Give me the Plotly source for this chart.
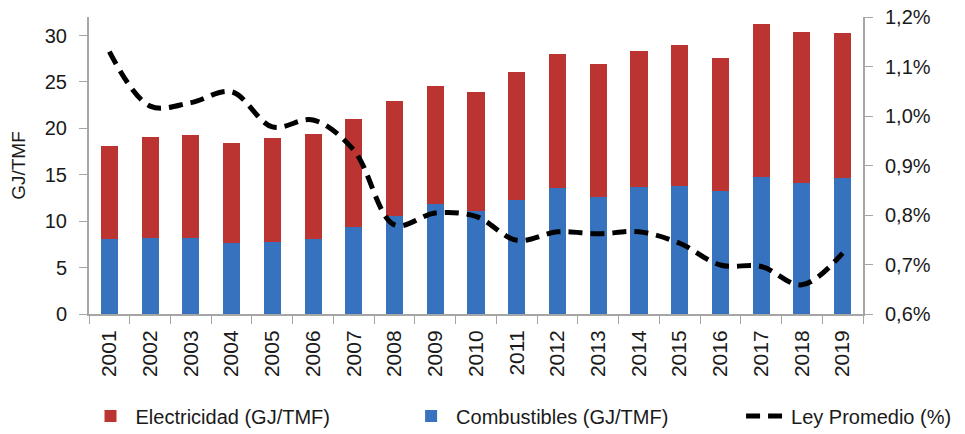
import plotly.graph_objects as go

anios = [str(a) for a in range(2001, 2020)]
total = [18.1, 19.1, 19.3, 18.4, 19.0, 19.4, 21.0, 22.9, 24.6, 23.9,
         26.1, 28.0, 26.9, 28.3, 29.0, 27.6, 31.2, 30.4, 30.3]
combustibles = [8.1, 8.2, 8.2, 7.7, 7.8, 8.1, 9.4, 10.6, 11.8, 11.1,
                12.3, 13.6, 12.6, 13.7, 13.8, 13.3, 14.8, 14.1, 14.7]
electricidad = [round(t - c, 2) for t, c in zip(total, combustibles)]
ley = [1.13, 1.02, 1.027, 1.049, 0.978, 0.992, 0.931, 0.78, 0.804, 0.797,
       0.749, 0.766, 0.762, 0.766, 0.743, 0.699, 0.696, 0.659, 0.723]

FUENTE = "Liberation Sans, Arial, sans-serif"
GRIS = "#a6a6a6"


def _leyenda(x):
    # una leyenda por serie para repartirlas como en el original
    return dict(orientation="h", xref="container", yref="container", x=x, y=0.042,
                xanchor="left", yanchor="middle", font=dict(size=20), itemwidth=40,
                bgcolor="rgba(0,0,0,0)")


fig = go.Figure()
fig.add_trace(go.Bar(x=anios, y=combustibles, name="Combustibles (GJ/TMF)", legend="legend2",
                     marker=dict(color="#3672BD", line=dict(width=0))))
fig.add_trace(go.Bar(x=anios, y=electricidad, name="Electricidad (GJ/TMF)", legend="legend",
                     marker=dict(color="#BB3431", line=dict(width=0))))
fig.add_trace(go.Scatter(x=anios, y=ley, name="Ley Promedio (%)", yaxis="y2", legend="legend3",
                         mode="lines",
                         line=dict(color="black", width=5, dash="14px,8px", shape="spline")))

# la página añade 8 px de margen al body: la figura se reduce en esa medida
fig.update_layout(
    barmode="stack",
    bargap=0.58,
    width=957, height=426,
    paper_bgcolor="white",
    plot_bgcolor="white",
    font=dict(family=FUENTE, color="#1a1a1a", size=20),
    margin=dict(l=81, r=102, t=9, b=120, autoexpand=False),
    showlegend=True,
    legend=_leyenda(0.081),
    legend2=_leyenda(0.416),
    legend3=_leyenda(0.766),
    xaxis=dict(type="category", tickangle=-90, tickson="boundaries", ticks="outside",
               ticklen=8, tickcolor=GRIS, showline=True, linecolor=GRIS, linewidth=2,
               ticklabelstandoff=6, tickfont=dict(size=21), automargin=False),
    yaxis=dict(range=[0, 32], tickvals=[0, 5, 10, 15, 20, 25, 30], ticks="outside",
               ticklen=8, tickcolor=GRIS, showline=True, linecolor=GRIS, linewidth=2,
               showgrid=False, zeroline=False, ticklabelstandoff=8, automargin=False,
               ticklabeloverflow="allow",
               title=dict(text="GJ/TMF", font=dict(size=19), standoff=20)),
    yaxis2=dict(overlaying="y", side="right", range=[0.6, 1.2],
                tickvals=[0.6, 0.7, 0.8, 0.9, 1.0, 1.1, 1.2],
                ticktext=["0,6%", "0,7%", "0,8%", "0,9%", "1,0%", "1,1%", "1,2%"],
                ticks="outside", ticklen=8, tickcolor=GRIS, showline=True,
                linecolor=GRIS, linewidth=2, showgrid=False, zeroline=False,
                ticklabelstandoff=8, automargin=False, ticklabeloverflow="allow"),
)

fig.write_html("out.html")
